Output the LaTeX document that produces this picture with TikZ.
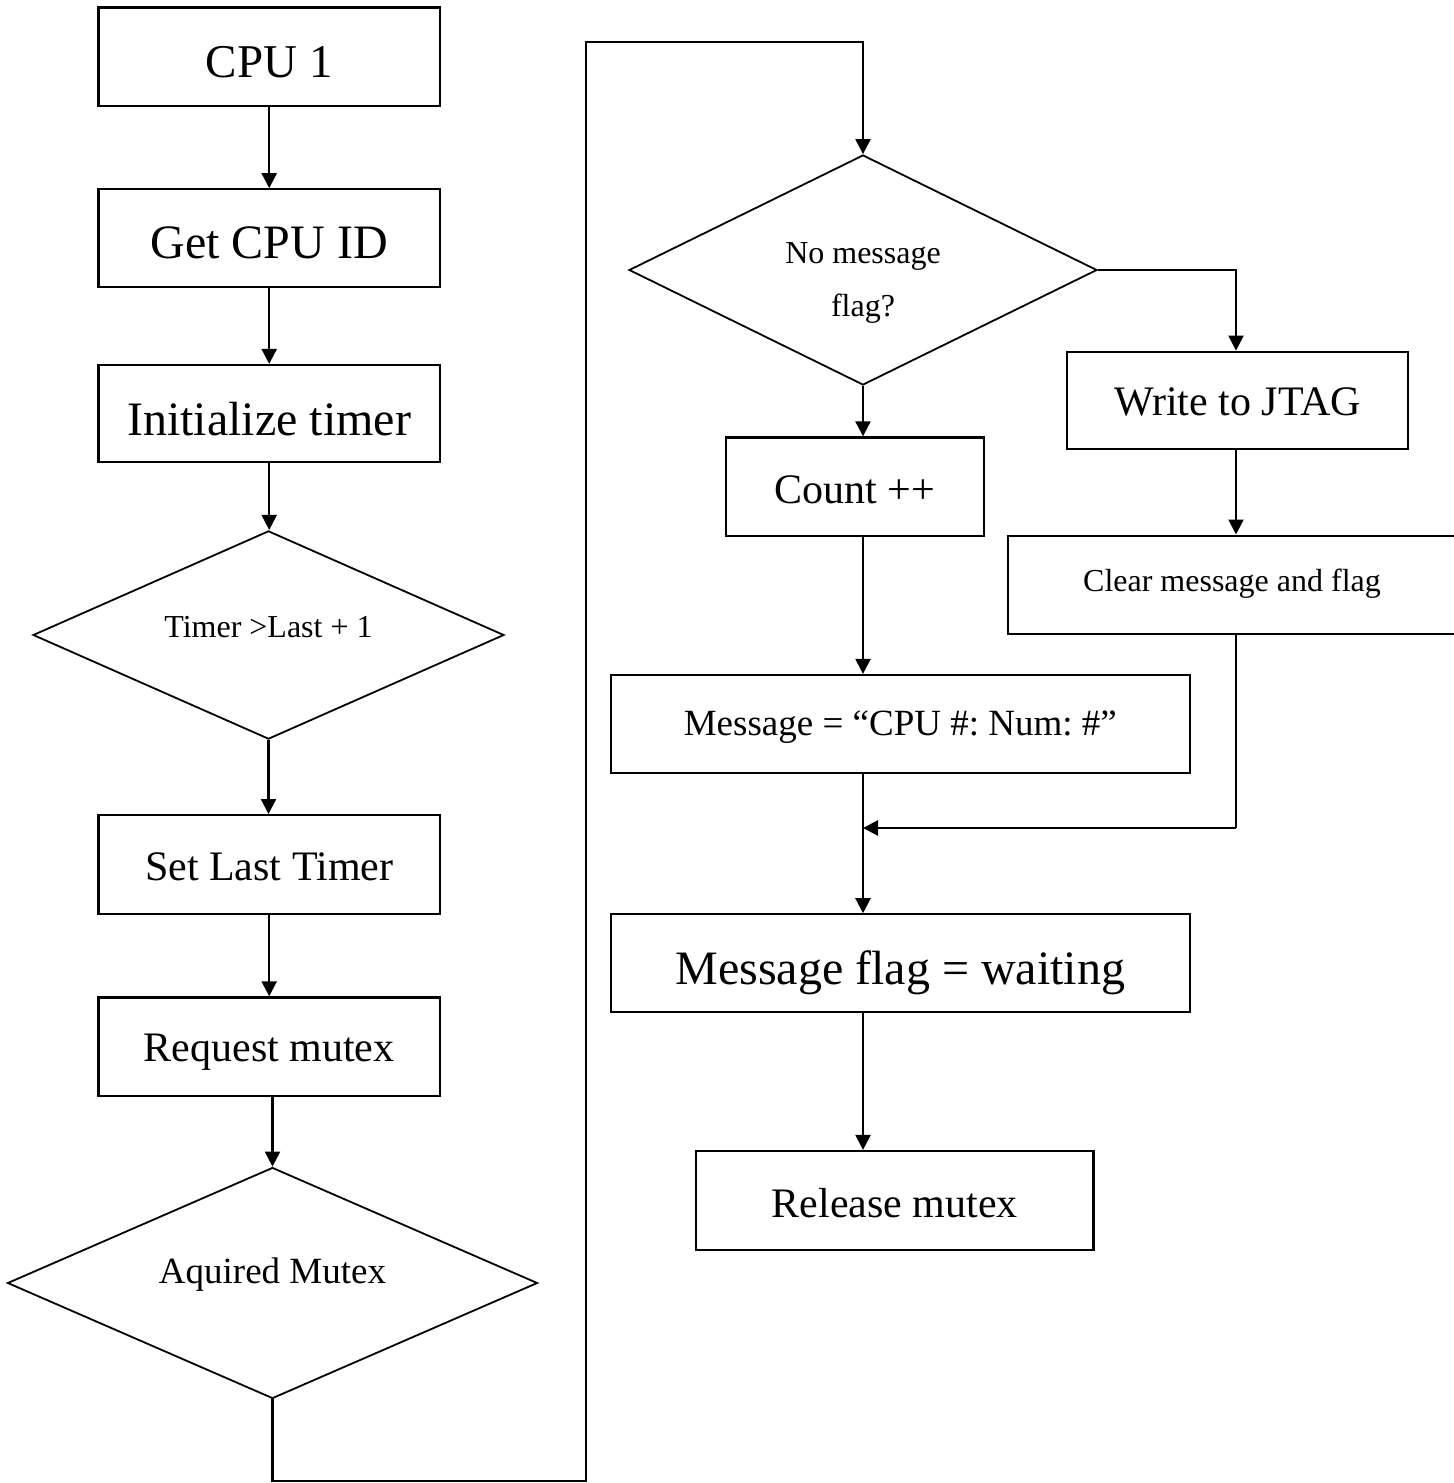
\documentclass[tikz,border=0pt]{standalone}
\usepackage{fontspec}
\setmainfont{Liberation Serif}
\usetikzlibrary{shapes.geometric,arrows.meta,calc}
\newcommand\txtat[2]{\raisebox{-#1}[0pt][0pt]{#2}}
\frenchspacing
\begin{document}
\begin{tikzpicture}[x=0.5pt,y=-0.5pt,
  box/.style={draw,line width=1.1pt,rectangle,inner sep=0pt},
  dia/.style={draw,line width=0.9pt,diamond,inner sep=0pt},
  arr/.style={line width=1.1pt,-{Triangle[length=7.5pt,width=7.5pt]}},
  ln/.style={line width=1.1pt},
  fbig/.style={font=\fontsize{24}{29}\selectfont},
  fmid/.style={font=\fontsize{21}{25}\selectfont},
  fmed/.style={font=\fontsize{18.5}{22}\selectfont},
  fsml/.style={font=\fontsize{16}{26.7}\selectfont}]
\useasboundingbox (0,0) rectangle (1453,1483);

% left column
\node[box,fbig,minimum width=170.8pt,minimum height=49.3pt] (cpu) at (269.2,56.7) {\txtat{10.5pt}{\fontsize{23.5}{28}\selectfont CPU 1}};
\node[box,fbig,minimum width=170.8pt,minimum height=48.7pt] (getid) at (269.2,238) {\txtat{10.2pt}{Get CPU ID}};
\node[box,fbig,minimum width=170.8pt,minimum height=48.5pt] (init) at (269.2,413.5) {\txtat{10.8pt}{Initialize timer}};
\node[dia,fsml,minimum width=235.5pt,minimum height=100pt] (d1) at (268.5,635) {\txtat{1pt}{Timer >Last + 1}};
\node[box,fmid,minimum width=170.8pt,minimum height=49.6pt] (setlast) at (269.2,864.7) {\txtat{7.7pt}{Set Last Timer}};
\node[box,fmid,minimum width=170.8pt,minimum height=49.3pt] (req) at (269.2,1046.7) {\txtat{7.5pt}{Request mutex}};
\node[dia,fmed,minimum width=265pt,minimum height=115.5pt] (d2) at (272.5,1283) {\txtat{0pt}{Aquired Mutex}};

% right part
\node[dia,fsml,minimum width=234pt,minimum height=115pt] (d3) at (863,270) {\raisebox{3.5pt}[0pt][0pt]{\begin{tabular}[t]{@{}c@{}}No message\\flag?\end{tabular}}};
\node[box,fmid,minimum width=170.5pt,minimum height=48.8pt] (jtag) at (1237.8,400.5) {\txtat{7.25pt}{Write to JTAG}};
\node[box,fsml,minimum width=224pt,minimum height=49.2pt] (clear) at (1232,584.8) {\txtat{3.5pt}{Clear message and flag}};
\node[box,fmid,minimum width=129.3pt,minimum height=49.3pt] (count) at (855,486.7) {\txtat{8.3pt}{Count ++}};
\node[box,fmed,minimum width=289.7pt,minimum height=48.8pt] (msg) at (900.3,723.8) {\txtat{6pt}{Message = “CPU \#: Num: \#”}};
\node[box,fbig,minimum width=289.7pt,minimum height=49pt] (flag) at (900.3,963.3) {\txtat{10.8pt}{Message flag = waiting}};
\node[box,fmid,minimum width=198.7pt,minimum height=49.5pt] (rel) at (894.8,1200.5) {\txtat{8.5pt}{Release mutex}};

% helper coordinates
\coordinate (lpB) at (586,1481);
\coordinate (lpC) at (586,42);
\coordinate (jn) at (1236,828);

% left column connectors
\draw[arr] (cpu.south) -- (cpu.south |- getid.north);
\draw[arr] (getid.south) -- (getid.south |- init.north);
\draw[arr] (init.south) -- (init.south |- d1.north);
\draw[arr] (d1.south) -- (d1.south |- setlast.north);
\draw[arr] (setlast.south) -- (setlast.south |- req.north);
\draw[arr] (d2.north |- req.south) -- (d2.north);

% loop to right column
\draw[arr] (d2.south) -- (d2.south |- lpB) -- (lpB) -- (lpC) -- (d3.north |- lpC) -- (d3.north);

% right column connectors
\draw[arr] (d3.east) -| (jn |- jtag.north);
\draw[arr] (jn |- jtag.south) -- (jn |- clear.north);
\draw[ln] (jn |- clear.south) -- (jn);
\draw[arr] (jn) -- (d3.south |- jn);
\draw[arr] (d3.south) -- (d3.south |- count.north);
\draw[arr] (d3.south |- count.south) -- (d3.south |- msg.north);
\draw[arr] (d3.south |- msg.south) -- (d3.south |- flag.north);
\draw[arr] (d3.south |- flag.south) -- (d3.south |- rel.north);
\end{tikzpicture}
\end{document}
